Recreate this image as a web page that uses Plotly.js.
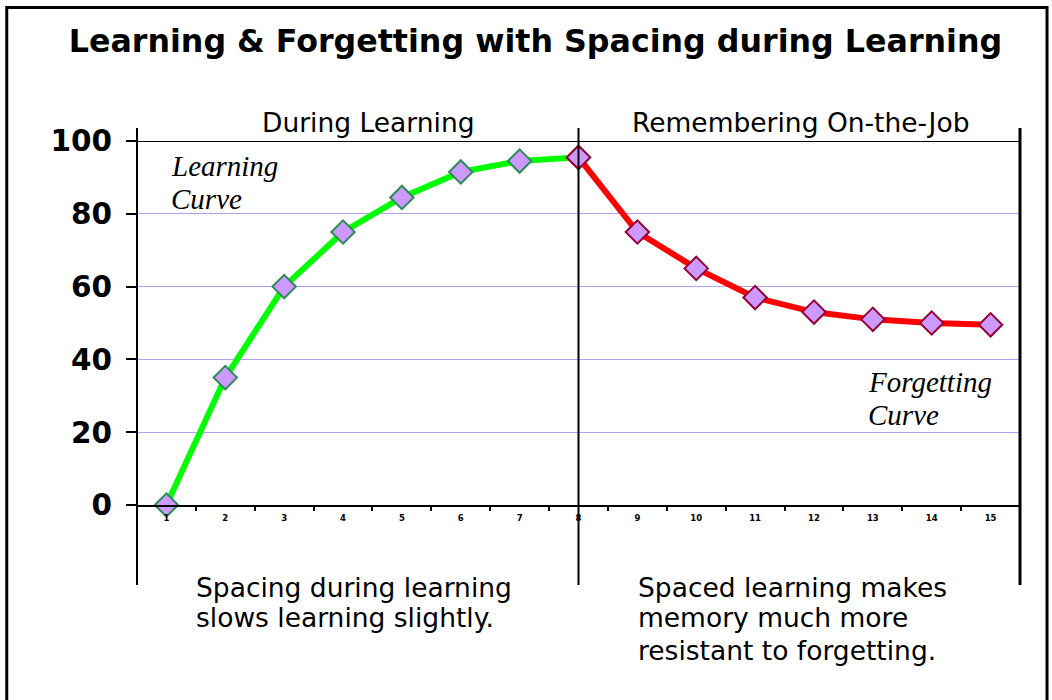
<!DOCTYPE html>
<html>
<head>
<meta charset="utf-8">
<script src="https://cdn.plot.ly/plotly-3.0.1.min.js"></script>
<style>html,body{margin:0;padding:0;background:#fff;}#chart{width:1052px;height:700px;}</style>
</head>
<body>
<div id="chart"></div>
<script>
const categories = ['1','2','3','4','5','6','7','8','9','10','11','12','13','14','15'];
const learningX = ['1','2','3','4','5','6','7','8'];
const learningY = [0, 35, 60, 75, 84.5, 91.5, 94.5, 95.5];
const forgettingX = ['8','9','10','11','12','13','14','15'];
const forgettingY = [95.5, 75, 65, 57, 53, 51, 50, 49.5];
const yTicks = [0, 20, 40, 60, 80, 100];

const sans = 'DejaVu Sans, Verdana, sans-serif';
const serif = 'Liberation Serif, Times New Roman, serif';

const traces = [
  {
    x: learningX, y: learningY, type: 'scatter', mode: 'lines+markers',
    line: {color: '#00ff00', width: 6},
    marker: {symbol: 'diamond', size: 18, color: '#cc99ff', line: {color: '#2e8b57', width: 2}},
    hoverinfo: 'x+y', showlegend: false, cliponaxis: false
  },
  {
    x: forgettingX, y: forgettingY, type: 'scatter', mode: 'lines+markers',
    line: {color: '#ff0000', width: 6},
    marker: {symbol: 'diamond', size: 18, color: '#cc99ff', line: {color: '#990033', width: 2}},
    hoverinfo: 'x+y', showlegend: false, cliponaxis: false
  }
];

function txt(text, x, y, xanchor, font) {
  return {text: text, xref: 'paper', yref: 'paper', x: x, y: y, xanchor: xanchor, yanchor: 'middle',
          showarrow: false, font: font};
}
const headFont = {family: sans, size: 26.5, color: '#000'};
const bodyFont = {family: sans, size: 26.5, color: '#000'};
const curveFont = {family: serif, size: 29, color: '#000', style: 'italic'};

const layout = {
  width: 1052, height: 700,
  margin: {l: 137, r: 32, t: 141, b: 195},
  paper_bgcolor: '#ffffff', plot_bgcolor: '#ffffff',
  title: {
    text: '<b>Learning & Forgetting with Spacing during Learning</b>',
    font: {family: sans, size: 31.7, color: '#000'},
    x: 0.509, xanchor: 'center', y: 0.942, yanchor: 'middle'
  },
  xaxis: {
    type: 'category', categoryorder: 'array', categoryarray: categories,
    range: [-0.5, 14.5], autorange: false,
    tickson: 'boundaries', ticks: 'outside', ticklen: 4, tickwidth: 2, tickcolor: '#000',
    showgrid: false, zeroline: false,
    showline: true, linecolor: '#000', linewidth: 2,
    tickfont: {family: sans, size: 8.5, color: '#000', weight: 'bold'},
    ticklabelstandoff: 4,
    fixedrange: true
  },
  yaxis: {
    range: [0, 100], autorange: false, tickvals: yTicks, ticktext: yTicks.map(String),
    ticks: 'outside', ticklen: 10, tickwidth: 2, tickcolor: '#000',
    showgrid: true, gridcolor: '#b89cf0', gridwidth: 1,
    zeroline: false, showline: false,
    tickfont: {family: sans, size: 29.5, color: '#000', weight: 'bold'},
    ticklabelstandoff: 8,
    fixedrange: true
  },
  shapes: [
    {type: 'rect', xref: 'paper', yref: 'paper', x0: -0.1475, x1: 1.0306, y0: -0.6, y1: 1.367, line: {color: '#000', width: 3}},
    {type: 'line', xref: 'paper', yref: 'y', x0: 0, x1: 1, y0: 100, y1: 100, line: {color: '#000', width: 2}},
    {type: 'line', xref: 'paper', yref: 'paper', x0: 0, x1: 0, y0: -0.22, y1: 1.036, line: {color: '#000', width: 2}},
    {type: 'line', xref: 'paper', yref: 'paper', x0: 0.5, x1: 0.5, y0: -0.22, y1: 1.036, line: {color: '#000', width: 2}},
    {type: 'line', xref: 'paper', yref: 'paper', x0: 1, x1: 1, y0: -0.22, y1: 1.036, line: {color: '#000', width: 3}}
  ],
  annotations: [
    txt('During Learning', 0.262, 1.052, 'center', headFont),
    txt('Remembering On-the-Job', 0.751, 1.052, 'center', headFont),
    txt('Learning', 0.036, 0.931, 'left', curveFont),
    txt('Curve', 0.036, 0.841, 'left', curveFont),
    txt('Forgetting', 0.826, 0.338, 'left', curveFont),
    txt('Curve', 0.826, 0.247, 'left', curveFont),
    txt('Spacing during learning', 0.065, -0.2253, 'left', bodyFont),
    txt('slows learning slightly.', 0.065, -0.3104, 'left', bodyFont),
    txt('Spaced learning makes', 0.5655, -0.2253, 'left', bodyFont),
    txt('memory much more', 0.5655, -0.3104, 'left', bodyFont),
    txt('resistant to forgetting.', 0.5655, -0.3984, 'left', bodyFont)
  ],
  showlegend: false
};

Plotly.newPlot('chart', traces, layout, {displayModeBar: false, staticPlot: true});
</script>
</body>
</html>
